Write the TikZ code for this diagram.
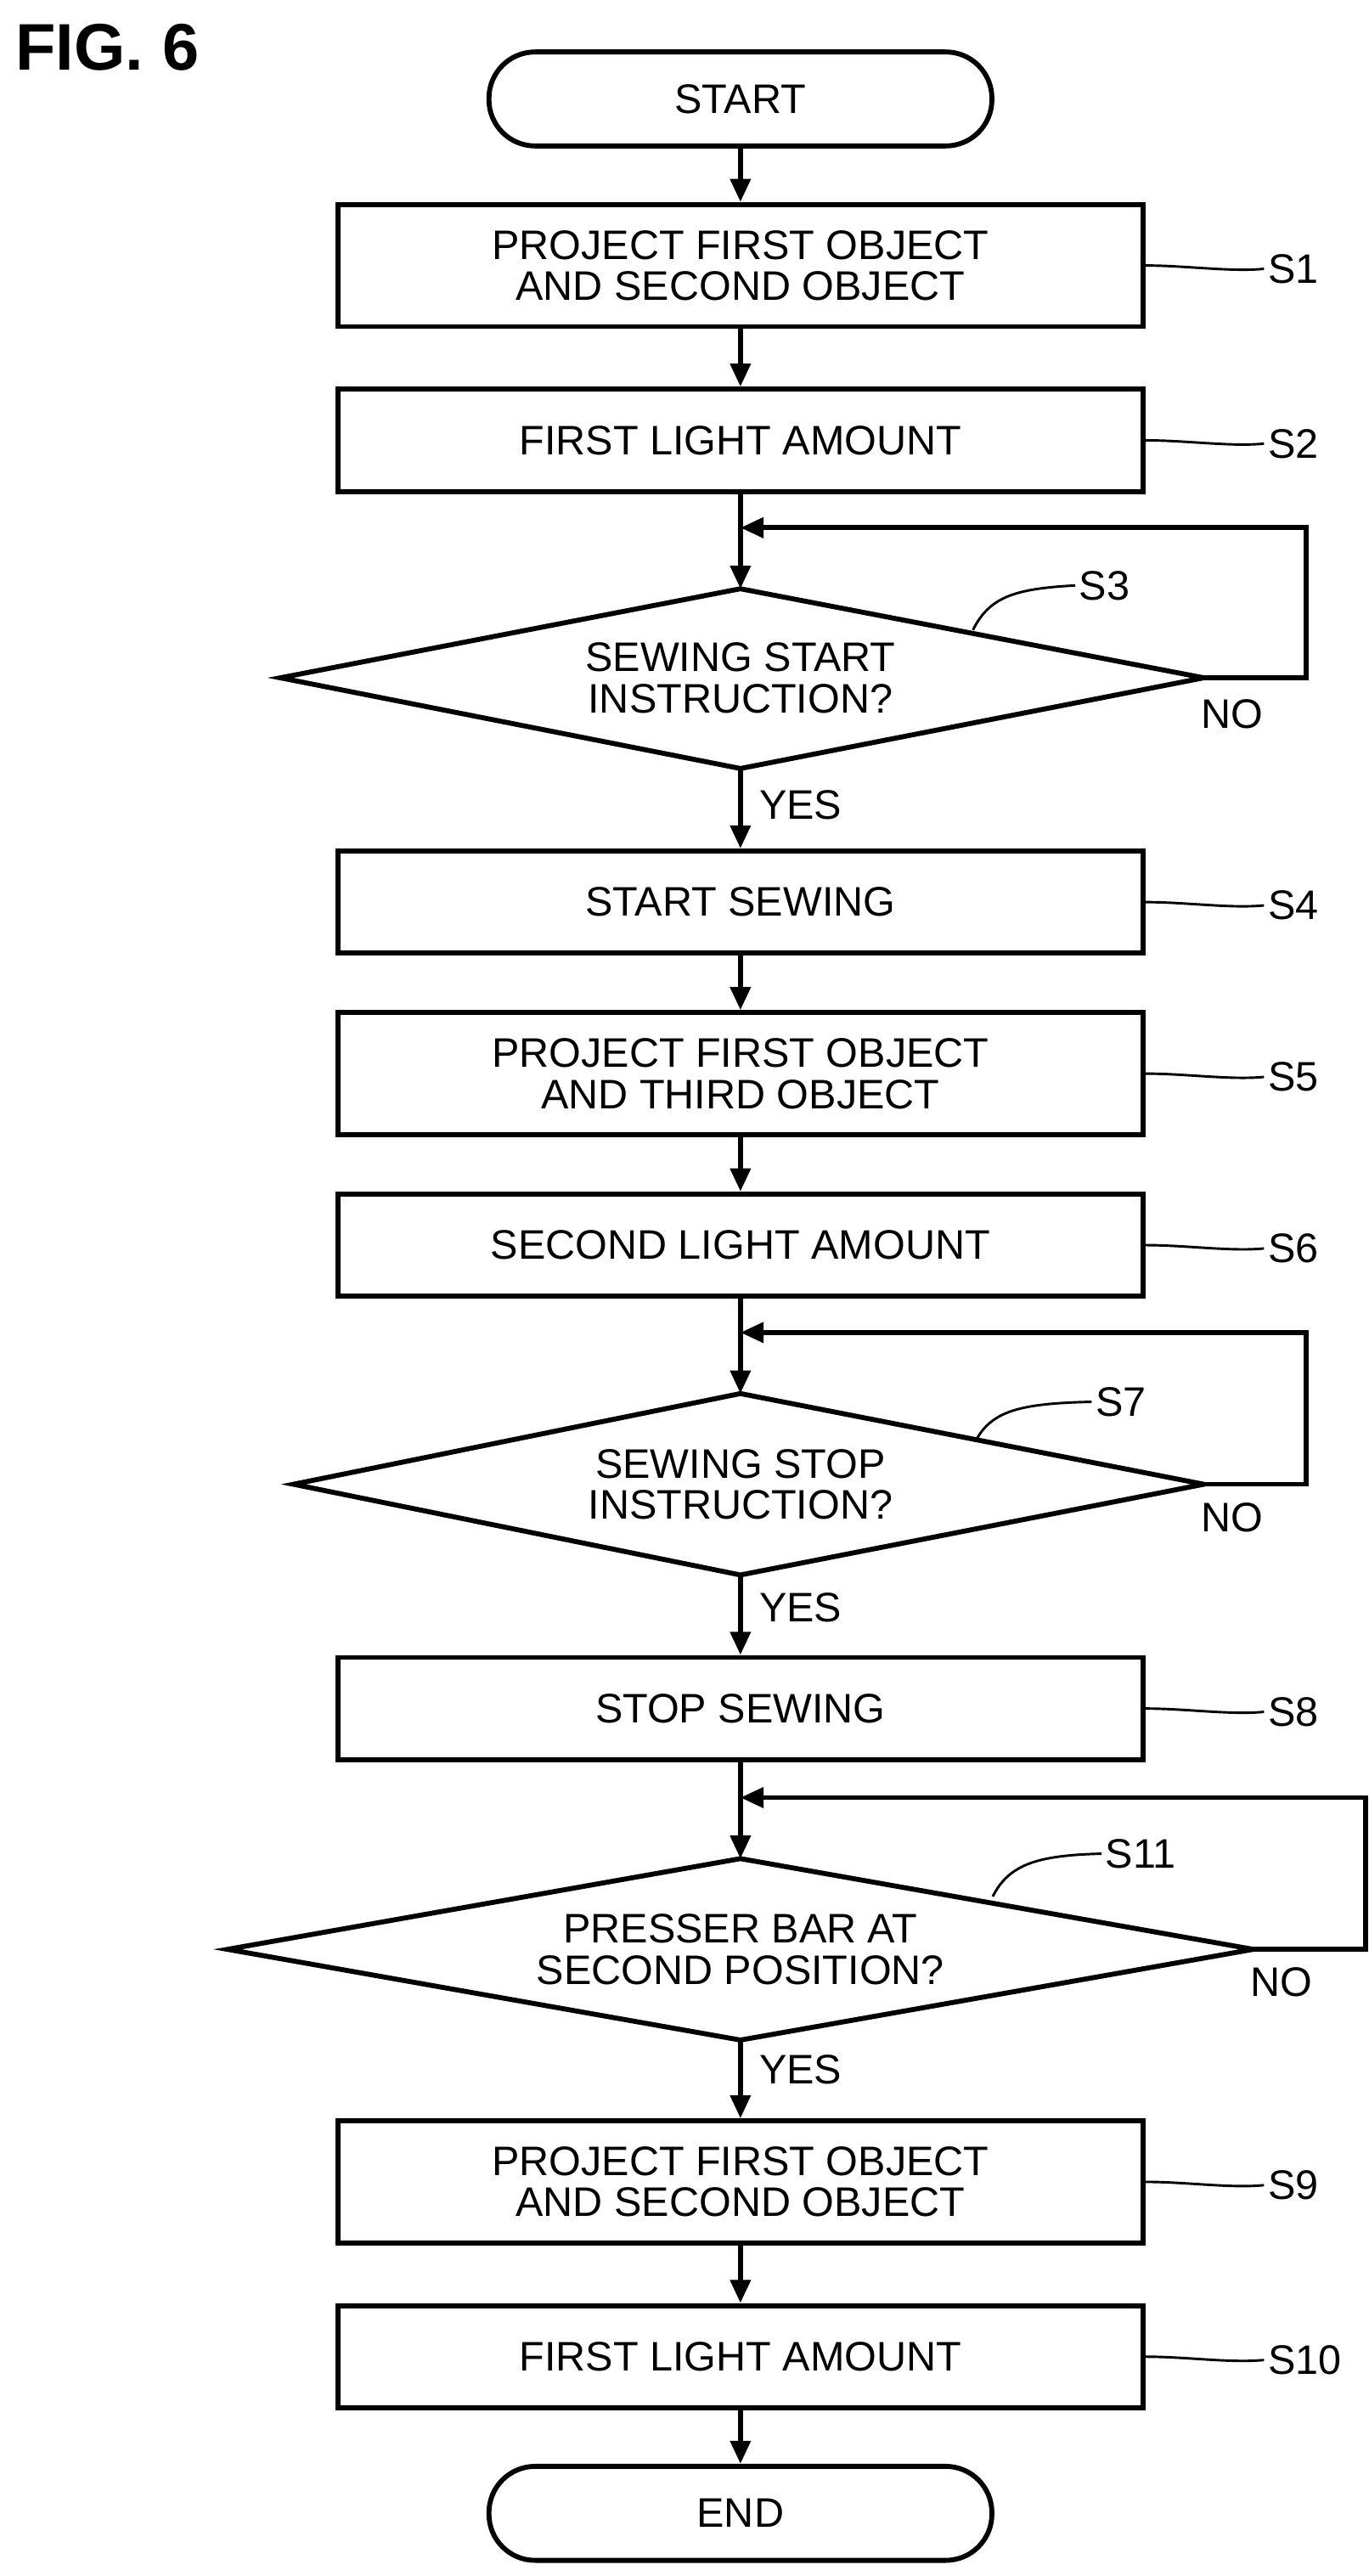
\documentclass[tikz,border=0pt]{standalone}
\usepackage{fontspec}
\setmainfont{Liberation Sans}
\usetikzlibrary{arrows.meta}
\begin{document}
\begin{tikzpicture}[x=1pt,y=-1pt,line width=3pt,
  box/.style={draw,minimum width=488pt,minimum height=#1,align=center,font=\fontsize{25}{29}\selectfont},
  box/.default=62pt,
  term/.style={draw,rounded corners=28pt,minimum width=305pt,minimum height=57pt,font=\fontsize{25}{29}\selectfont},
  txt/.style={align=center,font=\fontsize{25}{29}\selectfont},
  lbl/.style={font=\fontsize{25}{29}\selectfont,anchor=west,inner sep=1pt},
  arr/.style={-{Triangle[length=14pt,width=12pt]}},
  sq/.style={line width=1.5pt}]
\useasboundingbox (0,0) rectangle (830,1562);
\node[anchor=north west,font=\bfseries\fontsize{40}{44}\selectfont,inner sep=0pt] (fig) at (8,13) {FIG. 6};
\node[term] (start) at (449,60) {START};
\node[box=74pt] (s1) at (449,161) {PROJECT FIRST OBJECT\\[-4pt]AND SECOND OBJECT};
\node[box] (s2) at (449,267) {FIRST LIGHT AMOUNT};
\coordinate (d3t) at (449,357); \coordinate (d3b) at (449,466);
\coordinate (d3l) at (170,411); \coordinate (d3r) at (730,411);
\draw (d3t)--(d3r)--(d3b)--(d3l)--cycle;
\node[txt] (s3) at (449,411) {SEWING START\\[-4pt]INSTRUCTION?};
\node[box] (s4) at (449,547) {START SEWING};
\node[box=74pt] (s5) at (449,651) {PROJECT FIRST OBJECT\\[-4pt]AND THIRD OBJECT};
\node[box] (s6) at (449,755) {SECOND LIGHT AMOUNT};
\coordinate (d7t) at (449,845); \coordinate (d7b) at (449,955);
\coordinate (d7l) at (178,900); \coordinate (d7r) at (730,900);
\draw (d7t)--(d7r)--(d7b)--(d7l)--cycle;
\node[txt] (s7) at (449,900) {SEWING STOP\\[-4pt]INSTRUCTION?};
\node[box] (s8) at (449,1036) {STOP SEWING};
\coordinate (d11t) at (449,1127); \coordinate (d11b) at (449,1237);
\coordinate (d11l) at (138,1182); \coordinate (d11r) at (760,1182);
\draw (d11t)--(d11r)--(d11b)--(d11l)--cycle;
\node[txt] (s11) at (449,1182) {PRESSER BAR AT\\[-4pt]SECOND POSITION?};
\node[box=74pt] (s9) at (449,1323) {PROJECT FIRST OBJECT\\[-4pt]AND SECOND OBJECT};
\node[box] (s10) at (449,1429) {FIRST LIGHT AMOUNT};
\node[term] (end) at (449,1524) {END};
% arrows
\draw[arr] (start)--(s1);
\draw[arr] (s1)--(s2);
\draw[arr] (s2)--(d3t);
\draw[arr] (d3b)--(s4);
\draw[arr] (s4)--(s5);
\draw[arr] (s5)--(s6);
\draw[arr] (s6)--(d7t);
\draw[arr] (d7b)--(s8);
\draw[arr] (s8)--(d11t);
\draw[arr] (d11b)--(s9);
\draw[arr] (s9)--(s10);
\draw[arr] (s10)--(end);
\coordinate (j3) at (449,320); \coordinate (j7) at (449,808); \coordinate (j11) at (449,1090);
\draw[arr,line join=miter] (d3r)--(792,411)--(792,320)--(j3);
\draw[arr,line join=miter] (d7r)--(792,900)--(792,808)--(j7);
\draw[arr,line join=miter] (d11r)--(828,1182)--(828,1090)--(j11);
% yes/no
\node[lbl] (y3) at (458,488) {YES};
\node[lbl] (y7) at (458,975) {YES};
\node[lbl] (y11) at (458,1255) {YES};
\node[lbl] (n3) at (726,433) {NO};
\node[lbl] (n7) at (726,920) {NO};
\node[lbl] (n11) at (756,1202) {NO};
% step labels
\foreach \b/\t in {s1/S1,s2/S2,s4/S4,s5/S5,s6/S6,s8/S8,s9/S9,s10/S10}{
  \node[lbl] (l\b) at ([xshift=72pt,yshift=-2pt]\b.east) {\t};
  \draw[sq] (\b.east) .. controls +(25,0) and +(-20,2) .. (l\b.west);
}
\node[lbl] (ls3) at (652,355) {S3};
\draw[sq] (590,382) .. controls (600,362) and (615,357) .. (ls3.west);
\node[lbl] (ls7) at (662,850) {S7};
\draw[sq] (592,873) .. controls (602,855) and (620,851) .. (ls7.west);
\node[lbl] (ls11) at (668,1124) {S11};
\draw[sq] (602,1150) .. controls (612,1130) and (630,1125) .. (ls11.west);
\end{tikzpicture}
\end{document}
